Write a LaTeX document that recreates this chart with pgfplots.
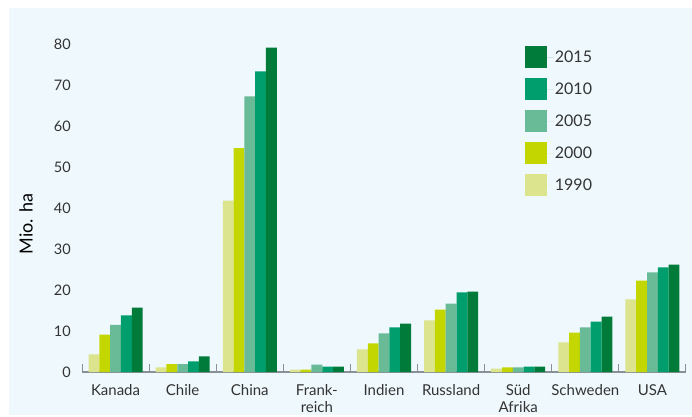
\documentclass[border=0pt]{standalone}
\usepackage{pgfplots}
\pgfplotsset{compat=1.18}
\usepackage{fontspec}
\setmainfont{Lato}
\definecolor{bgc}{HTML}{EFF9FD}
\definecolor{c1990}{HTML}{DDE48E}
\definecolor{c2000}{HTML}{C4D600}
\definecolor{c2005}{HTML}{69BB97}
\definecolor{c2010}{HTML}{009E6D}
\definecolor{c2015}{HTML}{007B3A}
\definecolor{txt}{HTML}{333333}
\definecolor{axc}{HTML}{8A9095}
\begin{document}
\begin{tikzpicture}
\path[fill=white] (0pt,0pt) rectangle (692pt,415pt);
\fill[bgc] (9pt,0pt) rectangle (692pt,407pt);
\begin{axis}[
  at={(82pt,43pt)}, anchor=south west,
  scale only axis,
  width=604pt, height=348.5pt,
  ybar=0pt, bar width=10.8pt,
  xmin=-0.5, xmax=8.5,
  ymin=0, ymax=85,
  axis lines*=left,
  y axis line style={draw=none},
  x axis line style={draw=axc, line width=1.2pt},
  xtick={0,...,8},
  xticklabels={Kanada,Chile,China,{Frank-\\reich},Indien,Russland,{Süd\\Afrika},Schweden,USA},
  major x tick style={draw=none},
  minor xtick={-0.5,0.5,...,8.5},
  minor x tick style={draw=axc, line width=1pt},
  minor tick length=8pt,
  tick align=inside,
  /pgf/number format/assume math mode=true,
  xticklabel style={font=\fontsize{15}{17}\selectfont, text=txt, align=center, anchor=north, yshift=-9pt},
  ytick={0,10,...,80},
  major y tick style={draw=none},
  major tick length=0pt,
  yticklabel style={font=\fontsize{14.5}{16}\selectfont, text=txt, anchor=east, inner sep=0pt, xshift=-11pt},
  ylabel={Mio. ha},
  ylabel style={at={(axis description cs:-0.0927,0.425)}, anchor=center, font=\fontsize{18}{20}\selectfont},
  legend image code/.code={\fill[#1,draw=none] (0pt,-11pt) rectangle (22pt,11pt); \path (0pt,0pt) -- (28pt,0pt);},
  reverse legend,
  legend cell align=left,
  legend style={at={(axis description cs:0.733,0.935)}, anchor=north west, draw=none, fill=none,
    inner sep=0pt, row sep=10pt, font=\fontsize{16}{18}\selectfont, text=txt},
]
\addplot[fill=c1990, draw=none] coordinates {(0,4.3) (1,1.1) (2,41.8) (3,0.6) (4,5.5) (5,12.6) (6,0.85) (7,7.2) (8,17.7)};
\addplot[fill=c2000, draw=none] coordinates {(0,9.1) (1,1.9) (2,54.6) (3,0.6) (4,7.0) (5,15.2) (6,1.1) (7,9.6) (8,22.3)};
\addplot[fill=c2005, draw=none] coordinates {(0,11.5) (1,1.9) (2,67.2) (3,1.8) (4,9.4) (5,16.7) (6,1.1) (7,10.9) (8,24.3)};
\addplot[fill=c2010, draw=none] coordinates {(0,13.8) (1,2.6) (2,73.3) (3,1.3) (4,10.9) (5,19.4) (6,1.3) (7,12.3) (8,25.5)};
\addplot[fill=c2015, draw=none] coordinates {(0,15.7) (1,3.8) (2,79.1) (3,1.3) (4,11.8) (5,19.6) (6,1.3) (7,13.5) (8,26.2)};
\legend{1990,2000,2005,2010,2015}
\end{axis}
\end{tikzpicture}
\end{document}
